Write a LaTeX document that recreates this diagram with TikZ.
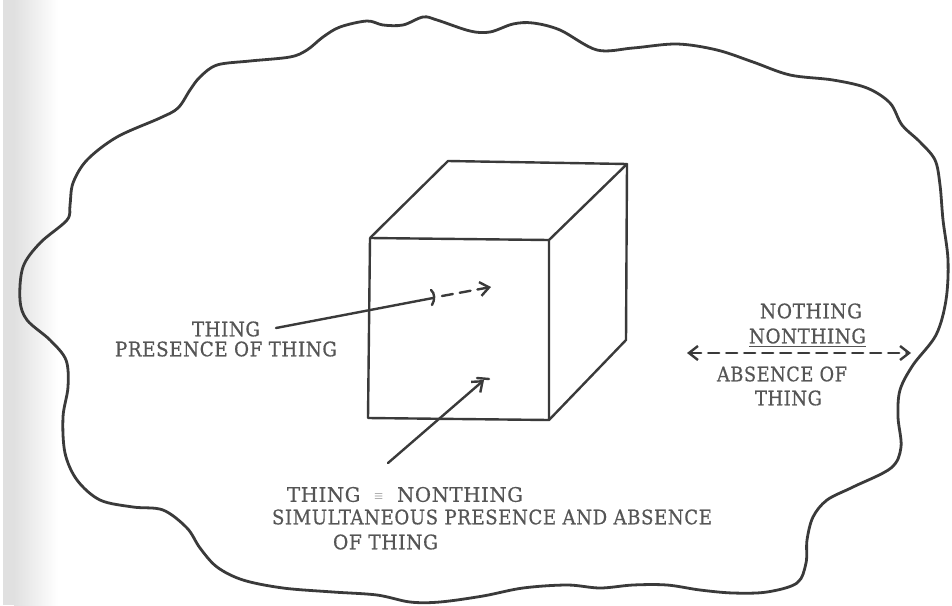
\documentclass[tikz,border=0pt]{standalone}
\usepackage{fontspec}
\setmainfont{DejaVu Serif}[LetterSpace=3, FakeBold=0.6]
\usetikzlibrary{arrows.meta}
\definecolor{ink}{HTML}{3A3A3A}
\definecolor{txt}{HTML}{555555}
\newcommand\fitw[2]{\resizebox{#1}{\height}{#2}}
\tikzset{
  outline/.style={draw=ink, line width=2.8pt, line join=round, line cap=round},
  cubeline/.style={draw=ink, line width=2.4pt, line join=round},
  lbl/.style={text=txt, font=\fontsize{20}{22}\selectfont, inner sep=0pt},
  pointer/.style={draw=ink, line width=2.4pt, line cap=round},
  barb/.tip={Straight Barb[length=9pt,width=14pt,line width=2.4pt]},
  tip/.style={-barb},
  dashes/.style={dash pattern=on 11pt off 7pt}
}
\begin{document}
\begin{tikzpicture}[x=1pt,y=-1pt]
\useasboundingbox (0,0) rectangle (952,605);
% scan shadow at left margin
\fill[gray!24] (3,0) rectangle (14,605);
\shade[left color=gray!24, right color=white] (14,0) rectangle (58,605);
% cloud outline
\draw[outline] plot[smooth cycle, tension=0.55] coordinates {
 (20,300) (23,267) (40,243) (67,220) (70,205) (73,183) (87,160) (117,137)
 (160,118) (178,108) (190,90) (200,77) (217,65) (250,61) (290,57) (307,50)
 (323,37) (340,27) (367,21) (383,25) (403,25) (423,17) (437,20) (470,31)
 (490,32) (513,24) (533,23) (560,30) (597,50) (633,48) (677,44) (717,50)
 (753,62) (790,75) (833,80) (867,88) (890,103) (902,125) (920,142) (935,160)
 (940,185) (943,220) (948,260) (946,300) (936,335) (913,365) (900,390)
 (898,417) (901,447) (891,468) (853,487) (827,500) (813,517) (807,540)
 (806,563) (797,583) (767,592) (733,593) (700,590) (667,585) (633,585)
 (600,588) (567,585) (523,588) (483,596) (440,602) (410,602) (377,595)
 (333,592) (283,588) (243,580) (217,567) (200,548) (187,528) (163,510)
 (133,507) (100,500) (77,480) (65,453) (63,417) (68,387) (66,360) (50,340)
 (27,320)};
% cube
\coordinate (ftl) at (370,238);
\coordinate (ftr) at (549,240);
\coordinate (fbl) at (368,418);
\coordinate (fbr) at (549,420);
\coordinate (btl) at (448,161);
\coordinate (btr) at (627,164);
\coordinate (bbr) at (626,340);
\draw[cubeline] (ftl) -- (ftr) -- (fbr) -- (fbl) -- cycle;
\draw[cubeline] (ftl) -- (btl) -- (btr) -- (ftr);
\draw[cubeline] (btr) -- (bbr) -- (fbr);
% left labels
\node[lbl] (thing) at (226,329) {\fitw{68pt}{THING}};
\node[lbl] (presence) at (226,349) {\fitw{222pt}{PRESENCE OF THING}};
\coordinate (pstart) at (276,328);
\coordinate (bar) at (433,298);
\coordinate (dstart) at (442,296);
\coordinate (inside) at (491,287);
\draw[pointer] (pstart) -- (bar);
\draw[pointer] (431,290) .. controls (435,293) and (435,300) .. (432,305);
\draw[pointer, dashes, tip] (dstart) -- (inside);
% right labels
\node[lbl] (nothing) at (811,311) {\fitw{102pt}{NOTHING}};
\node[lbl] (nonthing) at (807.5,336) {\fitw{117pt}{NONTHING}};
\draw[draw=txt, line width=1.4pt] (749,346.5) -- (866,346.5);
\coordinate (leftend) at (687,353);
\coordinate (rightend) at (911,353);
\draw[pointer, dashes, barb-barb] (leftend) -- (rightend);
\node[lbl] (absence) at (782,374) {\fitw{130pt}{ABSENCE OF}};
\node[lbl] (thingb) at (788.5,398) {\fitw{67pt}{THING}};
% bottom labels
\node[lbl] (equiv) at (405,494.5) {\fitw{236pt}{THING \ \raisebox{2pt}{\fontsize{12}{12}\selectfont$\equiv$}\ \ NONTHING}};
\node[lbl] (simul) at (492,517) {\fitw{440pt}{SIMULTANEOUS PRESENCE AND ABSENCE}};
\node[lbl] (ofthing) at (385.5,542) {\fitw{105pt}{OF THING}};
\coordinate (qstart) at (388,463);
\coordinate (target) at (484,380);
\draw[pointer, tip] (qstart) -- (target);
\draw[pointer] (477,378) -- (489,379);
\end{tikzpicture}
\end{document}
